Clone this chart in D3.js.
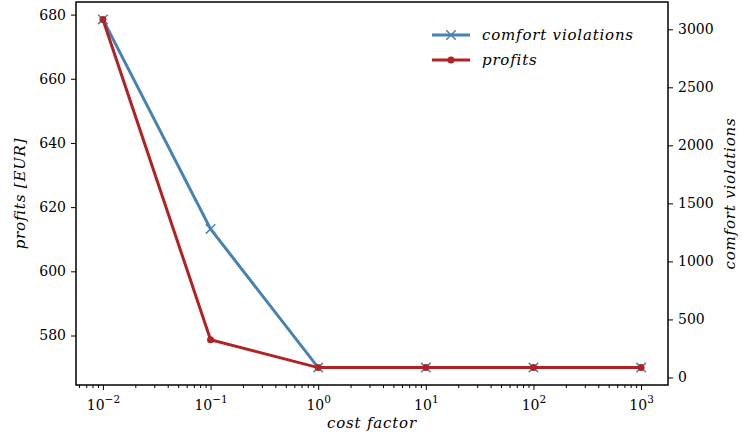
<!DOCTYPE html>
<html>
<head>
<meta charset="utf-8">
<script src="https://cdn.jsdelivr.net/npm/d3@7"></script>
<style>
  body { margin: 0; background: #fff; }
  text { font-family: "DejaVu Serif", serif; fill: #000; }
  .lbl { font-style: italic; letter-spacing: 0.8px; }
</style>
</head>
<body>
<div id="chart"></div>
<script>
(function() {

    var costFactors = [0.01, 0.1, 1, 10, 100, 1000];
    var comfortViolations = [3085, 1280, 85, 85, 85, 85];
    var profits = [678.5, 578.7, 570, 570, 570, 570];
    var profitTicks = [580, 600, 620, 640, 660, 680];
    var comfortTicks = [0, 500, 1000, 1500, 2000, 2500, 3000];
    var exponents = [-2, -1, 0, 1, 2, 3];

    var W = 742, H = 437;
    var margin = {top: 2, left: 76, right: 74, bottom: 52},
        width = W - margin.left - margin.right,
        height = H - margin.top - margin.bottom;

    var svg = d3.select("#chart")
            .append("svg")
            .attr("width", W)
            .attr("height", H)
            .append("g")
            .attr("transform", "translate(" + margin.left + "," + margin.top + ")");

    var blue = "#4682b4", red = "#b22222";

    // matplotlib style 5% margins
    var x = d3.scaleLog()
        .domain([Math.pow(10, -2.25), Math.pow(10, 3.25)])
        .range([0, width]);

    var pMin = d3.min(profits), pMax = d3.max(profits), pPad = (pMax - pMin) * 0.05;
    var yLeft = d3.scaleLinear()
        .domain([pMin - pPad, pMax + pPad])
        .range([height, 0]);

    var cMin = d3.min(comfortViolations), cMax = d3.max(comfortViolations), cPad = (cMax - cMin) * 0.05;
    var yRight = d3.scaleLinear()
        .domain([cMin - cPad, cMax + cPad])
        .range([height, 0]);

    /*
        Lines + markers
    */
    var comfortLine = d3.line()
        .x(function(d, i) { return x(costFactors[i]); })
        .y(function(d) { return yRight(d); });

    var profitLine = d3.line()
        .x(function(d, i) { return x(costFactors[i]); })
        .y(function(d) { return yLeft(d); });

    svg.append("path")
        .datum(comfortViolations)
        .attr("d", comfortLine)
        .attr("fill", "none")
        .attr("stroke", blue)
        .attr("stroke-width", 3);

    var cross = d3.symbol().type(d3.symbolX).size(60);
    svg.selectAll(".cmark")
        .data(comfortViolations)
        .enter().append("path")
        .attr("class", "cmark")
        .attr("d", cross)
        .attr("transform", function(d, i) { return "translate(" + x(costFactors[i]) + "," + yRight(d) + ")"; })
        .attr("fill", "none")
        .attr("stroke", blue)
        .attr("stroke-width", 1.5);

    svg.append("path")
        .datum(profits)
        .attr("d", profitLine)
        .attr("fill", "none")
        .attr("stroke", red)
        .attr("stroke-width", 3);

    svg.selectAll(".pmark")
        .data(profits)
        .enter().append("circle")
        .attr("class", "pmark")
        .attr("cx", function(d, i) { return x(costFactors[i]); })
        .attr("cy", function(d) { return yLeft(d); })
        .attr("r", 3.5)
        .attr("fill", red);

    /*
        Axes
    */
    var fs = "14px";

    svg.append("g")
        .attr("transform", "translate(0," + height + ")")
        .call(d3.axisBottom(x).tickValues(x.ticks().filter(function(v) {
            var l = Math.log10(v); return Math.abs(l - Math.round(l)) > 1e-6;
        })).tickSize(3).tickFormat(""));

    var xMajor = svg.append("g")
        .attr("transform", "translate(0," + height + ")")
        .call(d3.axisBottom(x).tickValues(exponents.map(function(e) { return Math.pow(10, e); }))
            .tickSize(5).tickFormat(""));

    xMajor.selectAll(".tick").each(function(d, i) {
        var t = d3.select(this).append("text")
            .attr("y", 25)
            .attr("text-anchor", "middle")
            .style("font-size", fs);
        t.append("tspan").text("10");
        t.append("tspan").attr("dy", -7).style("font-size", "10.5px")
            .text(exponents[i] < 0 ? "\u2212" + (-exponents[i]) : exponents[i]);
    });

    var yl = svg.append("g")
        .call(d3.axisLeft(yLeft).tickValues(profitTicks).tickSize(5).tickPadding(5));
    yl.selectAll("text").style("font-size", fs);

    var yr = svg.append("g")
        .attr("transform", "translate(" + width + ",0)")
        .call(d3.axisRight(yRight).tickValues(comfortTicks).tickFormat(d3.format("d"))
            .tickSize(5).tickPadding(5));
    yr.selectAll("text").style("font-size", fs);

    svg.selectAll(".domain").remove();
    svg.selectAll(".tick line").attr("stroke", "#000").attr("stroke-width", 1);

    svg.append("rect")
        .attr("width", width)
        .attr("height", height)
        .attr("fill", "none")
        .attr("stroke", "#000")
        .attr("stroke-width", 1.5);

    /*
        Axis labels
    */
    svg.append("text").attr("class", "lbl")
        .attr("transform", "translate(" + (-51) + "," + (height / 2) + ") rotate(-90)")
        .attr("text-anchor", "middle")
        .style("font-size", "15px")
        .text("profits [EUR]");

    svg.append("text").attr("class", "lbl")
        .attr("transform", "translate(" + (width + 67) + "," + (height / 2) + ") rotate(-90)")
        .attr("text-anchor", "middle")
        .style("font-size", "15px")
        .text("comfort violations");

    svg.append("text").attr("class", "lbl")
        .attr("x", width / 2)
        .attr("y", height + 43)
        .attr("text-anchor", "middle")
        .style("font-size", "15px")
        .text("cost factor");

    /*
        Legend
    */
    var legend = svg.append("g").attr("transform", "translate(356,33)");
    var entries = [{name: "comfort violations", color: blue, mark: "x"},
                   {name: "profits", color: red, mark: "o"}];
    entries.forEach(function(e, i) {
        var g = legend.append("g").attr("transform", "translate(0," + (i * 25) + ")");
        g.append("line").attr("x1", 0).attr("x2", 38)
            .attr("stroke", e.color).attr("stroke-width", 3);
        if (e.mark === "x") {
            g.append("path").attr("d", cross).attr("transform", "translate(19,0)")
                .attr("fill", "none").attr("stroke", e.color).attr("stroke-width", 1.5);
        } else {
            g.append("circle").attr("cx", 19).attr("r", 3.5).attr("fill", e.color);
        }
        g.append("text").attr("class", "lbl")
            .attr("x", 50).attr("y", 5)
            .style("font-size", "15px")
            .text(e.name);
    });

})();
</script>
</body>
</html>
